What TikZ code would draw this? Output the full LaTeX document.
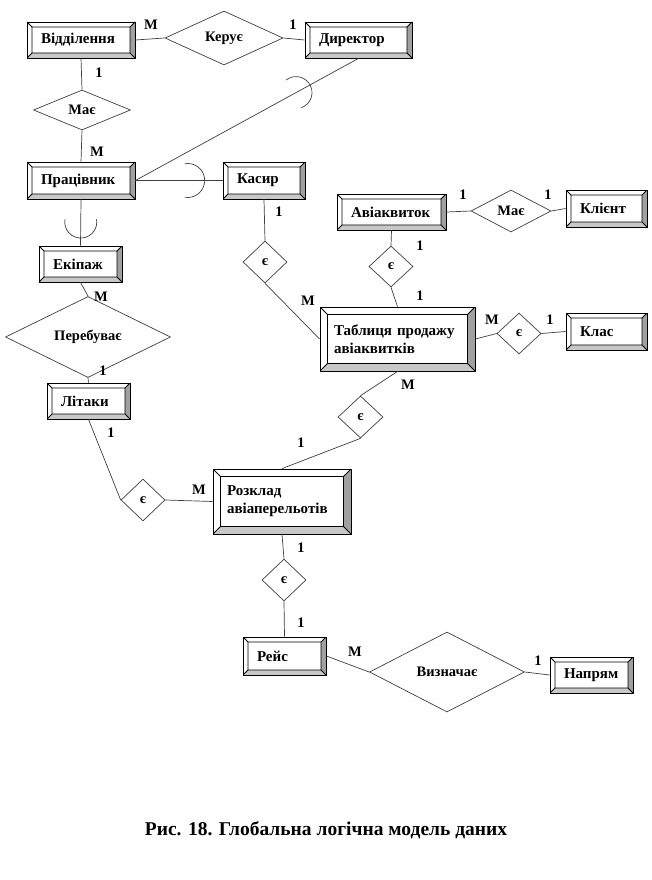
\documentclass[tikz,border=0pt]{standalone}
\usepackage{fontspec}
\setmainfont{Liberation Serif}
\usetikzlibrary{shapes.geometric,calc}
\newcommand\myEntFont{\bfseries\fontsize{15}{18}\selectfont}
\newcommand\myRelFont{\bfseries\fontsize{14.5}{17}\selectfont}
\newcommand\myCardFont{\bfseries\fontsize{14.5}{17}\selectfont}
\newcommand\myCapFont{\bfseries\fontsize{19.5}{22}\selectfont}
\definecolor{bevR}{HTML}{A0A0A0}
\definecolor{bevB}{HTML}{C8C8C8}
\definecolor{connC}{HTML}{404040}
\tikzset{
  bevel/.store in=\bev, bevel=5pt,
  ent/.style 2 args={draw=black, line width=0.8pt, fill=white, align=left,
    text width=#1pt, minimum height=#2pt, inner xsep=14pt, inner ysep=0pt,
    font=\myEntFont,
    path picture={
      \coordinate (ppA) at (path picture bounding box.north west);
      \coordinate (ppB) at (path picture bounding box.north east);
      \coordinate (ppC) at (path picture bounding box.south east);
      \coordinate (ppD) at (path picture bounding box.south west);
      \coordinate (ppa) at ([shift={(\bev,-\bev)}]ppA);
      \coordinate (ppb) at ([shift={(-\bev,-\bev)}]ppB);
      \coordinate (ppc) at ([shift={(-\bev,\bev)}]ppC);
      \coordinate (ppd) at ([shift={(\bev,\bev)}]ppD);
      \fill[bevR] (ppB) -- (ppC) -- (ppc) -- (ppb) -- cycle;
      \fill[bevB] (ppC) -- (ppD) -- (ppd) -- (ppc) -- cycle;
      \draw[line width=0.8pt] (ppa) rectangle (ppc)
        (ppA) -- (ppa) (ppB) -- (ppb) (ppC) -- (ppc) (ppD) -- (ppd);
    }},
  rel/.style 2 args={diamond, draw=connC, line width=0.7pt, fill=white,
    inner sep=0pt, minimum width=#1pt, minimum height=#2pt, font=\myRelFont},
  card/.style={font=\myCardFont, inner sep=0pt},
  conn/.style={draw=connC, line width=0.7pt},
}
\begin{document}
\begin{tikzpicture}[x=1pt,y=-1pt]
\fill[white] (0,0) rectangle (651,880);
\useasboundingbox (0,0) rectangle (651,880);

% entities
\node[ent={80}{36}] (vid) at (81,40) {Відділення};
\node[ent={79}{36}] (dir) at (358.5,40) {Директор};
\node[ent={80}{37}] (prac) at (81,180.5) {Працівник};
\node[ent={54}{37}] (kas) at (264,180.5) {Касир};
\node[ent={55}{36}] (ekip) at (80.5,264) {Екіпаж};
\node[ent={81}{36}] (avk) at (391.5,212) {Авіаквиток};
\node[ent={53}{37}] (kl) at (606.5,208.5) {Клієнт};
\node[ent={127}{64}, bevel=7.5pt] (tab) at (397.5,339) {Таблиця продажу\\авіаквитків};
\node[ent={53}{37}] (klas) at (606.5,331.5) {Клас};
\node[ent={55}{36}] (lit) at (88.5,401) {Літаки};
\node[ent={110}{65}, bevel=7.5pt] (roz) at (282,501.5) {Розклад\\авіаперельотів};
\node[ent={55}{38}] (reis) at (284.5,656) {Рейс};
\node[ent={55}{36}] (nap) at (591.5,675) {Напрям};

% relationships
\node[rel={118}{54}] (ker) at (224,38) {Керує};
\node[rel={97}{40}] (mae1) at (82,110) {Має};
\node[rel={165}{47}] (pereb) at (88,337) {Перебуває};
\node[rel={80}{42}] (mae2) at (511,211) {Має};
\node[rel={155}{80}] (vyz) at (447,672) {Визначає};
\node[rel={44}{42}] (e1) at (265,262) {є};
\node[rel={44}{41}] (e2) at (391,266.5) {є};
\node[rel={44}{41}] (e3) at (519,333.5) {є};
\node[rel={45}{42}] (e4) at (360.5,417) {є};
\node[rel={44}{42}] (e5) at (143,500) {є};
\node[rel={44}{42}] (e6) at (284,580) {є};

% connectors
\draw[conn] (vid.east) -- (ker.west);
\draw[conn] (ker.east) -- (dir.west);
\draw[conn] (vid.south) -- (mae1.north);
\draw[conn] (mae1.south) -- (prac.north);
\draw[conn] (dir.south) -- (prac.east);
\draw[conn] (prac.east) -- (kas.west);
\draw[conn] (prac.south) -- (ekip.north);
\draw[conn] (ekip.south) -- (pereb.north);
\draw[conn] (pereb.south) -- (lit.north);
\draw[conn] (kas.south) -- (e1.north);
\draw[conn] (e1.south) -- (tab.west);
\draw[conn] (avk.east) -- (mae2.west);
\draw[conn] (mae2.east) -- (kl.west);
\draw[conn] (avk.south) -- (e2.north);
\draw[conn] (e2.south) -- (tab.north);
\draw[conn] (tab.east) -- (e3.west);
\draw[conn] (e3.east) -- (klas.west);
\draw[conn] (tab.south) -- (e4.north);
\draw[conn] (e4.south) -- (roz.north);
\draw[conn] (lit.south) -- (e5.west);
\draw[conn] (e5.east) -- (roz.west);
\draw[conn] (roz.south) -- (e6.north);
\draw[conn] (e6.south) -- (reis.north);
\draw[conn] (reis.east) -- (vyz.west);
\draw[conn] (vyz.east) -- (nap.west);

% subset arcs
\coordinate (c1) at ($(dir.south)!0.28!(prac.east)$);
\coordinate (c2) at ($(prac.east)!0.6!(kas.west)$);
\coordinate (c3) at ($(prac.south)!0.49!(ekip.north)$);
\draw[conn] ([shift={(129:16pt)}]c1) arc[start angle=129, end angle=-71, radius=16pt];
\draw[conn] ([shift={(100:17pt)}]c2) arc[start angle=100, end angle=-100, radius=17pt];
\draw[conn] ([shift={(10:16pt)}]c3) arc[start angle=10, end angle=-190, radius=16pt];

% cardinalities
\node[card] (k1) at (151,24.5) {M};
\node[card] (k2) at (293,24.5) {1};
\node[card] (k3) at (99,73) {1};
\node[card] (k4) at (97,152) {M};
\node[card] (k5) at (279,212) {1};
\node[card] (k6) at (101,297) {M};
\node[card] (k7) at (308,301) {M};
\node[card] (k8) at (463,195) {1};
\node[card] (k9) at (548,195) {1};
\node[card] (k10) at (420,246) {1};
\node[card] (k11) at (420,296) {1};
\node[card] (k12) at (492,320) {M};
\node[card] (k13) at (550,320) {1};
\node[card] (k14) at (103,371) {1};
\node[card] (k15) at (111,433) {1};
\node[card] (k16) at (408,385) {M};
\node[card] (k17) at (301,443) {1};
\node[card] (k18) at (199,490) {M};
\node[card] (k19) at (301,548) {1};
\node[card] (k20) at (301,623) {1};
\node[card] (k21) at (355,652) {M};
\node[card] (k22) at (538,661) {1};

% caption
\node[font=\myCapFont, inner sep=0pt] (cap) at (326,830) {Рис. 18. Глобальна логічна модель даних};
\end{tikzpicture}
\end{document}
